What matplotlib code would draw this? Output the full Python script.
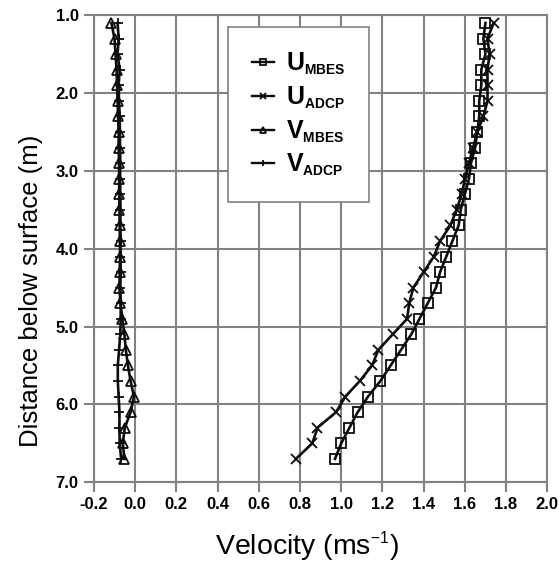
#!/usr/bin/env python3
# Velocity profiles: U and V components, MBES vs ADCP
import matplotlib
matplotlib.use("Agg")
import matplotlib.pyplot as plt
import matplotlib._mathtext as mathtext_internal

plt.rcParams['font.family'] = ['Liberation Sans', 'DejaVu Sans']
plt.rcParams['mathtext.fontset'] = 'custom'
plt.rcParams['mathtext.rm'] = 'Liberation Sans'
plt.rcParams['mathtext.bf'] = 'Liberation Sans:bold'
plt.rcParams['axes.unicode_minus'] = False
# smaller sub/superscripts, as in the original figure
mathtext_internal.SHRINK_FACTOR = 0.55

#----------- Data
depth = [1.1, 1.3, 1.5, 1.7, 1.9, 2.1, 2.3, 2.5, 2.7, 2.9,
         3.1, 3.3, 3.5, 3.7, 3.9, 4.1, 4.3, 4.5, 4.7, 4.9,
         5.1, 5.3, 5.5, 5.7, 5.9, 6.1, 6.3, 6.5, 6.7]
u_mbes = [1.70, 1.69, 1.70, 1.68, 1.68, 1.67, 1.67, 1.66, 1.65, 1.63,
          1.62, 1.60, 1.58, 1.57, 1.54, 1.51, 1.48, 1.46, 1.42, 1.38,
          1.34, 1.29, 1.24, 1.19, 1.13, 1.08, 1.04, 1.00, 0.97]
u_adcp = [1.74, 1.71, 1.72, 1.71, 1.71, 1.71, 1.69, 1.66, 1.64, 1.62,
          1.60, 1.585, 1.56, 1.53, 1.48, 1.45, 1.40, 1.35, 1.33, 1.32,
          1.25, 1.18, 1.15, 1.09, 1.02, 0.975, 0.885, 0.86, 0.78]
v_mbes = [-0.115, -0.100, -0.095, -0.090, -0.088, -0.085, -0.083, -0.080, -0.080, -0.078,
          -0.078, -0.077, -0.076, -0.075, -0.074, -0.073, -0.075, -0.076, -0.071, -0.062,
          -0.052, -0.045, -0.035, -0.022, -0.006, -0.022, -0.050, -0.060, -0.052]
v_adcp = [-0.085, -0.080, -0.085, -0.075, -0.080, -0.078, -0.075, -0.074, -0.073, -0.072,
          -0.073, -0.072, -0.071, -0.072, -0.070, -0.071, -0.070, -0.072, -0.070, -0.070,
          -0.072, -0.078, -0.084, -0.084, -0.080, -0.076, -0.076, -0.075, -0.068]

x_ticks = [-0.2, 0.0, 0.2, 0.4, 0.6, 0.8, 1.0, 1.2, 1.4, 1.6, 1.8, 2.0]
y_ticks = [1.0, 2.0, 3.0, 4.0, 5.0, 6.0, 7.0]

labels = [r'$\mathbf{U}_\mathbf{MBES}$', r'$\mathbf{U}_\mathbf{ADCP}$',
          r'$\mathbf{V}_\mathbf{MBES}$', r'$\mathbf{V}_\mathbf{ADCP}$']

#----------- Figure
fig = plt.figure(figsize=(5.59, 5.64), dpi=100)
ax = fig.add_axes([0.168, 0.145, 0.811, 0.828])

line_col = '#0d0d0d'
grid_col = '#828282'
kw = dict(color=line_col, lw=1.9, markersize=7, markeredgewidth=1.3)

ax.plot(u_mbes, depth, marker='s', mfc='none', label=labels[0], **kw)
ax.plot(u_adcp, depth, marker='x', label=labels[1], **kw)
ax.plot(v_mbes, depth, marker='^', mfc='none', label=labels[2], **kw)
ax.plot(v_adcp, depth, marker='+', label=labels[3], **kw)

ax.set_xlim(-0.2, 2.0)
ax.set_ylim(7.0, 1.0)
ax.set_xticks(x_ticks)
ax.set_xticklabels([f'{v:.1f}' for v in x_ticks], fontweight='bold', fontsize=12)
ax.set_yticks(y_ticks)
ax.set_yticklabels([f'{v:.1f}' for v in y_ticks], fontweight='bold', fontsize=12)
ax.tick_params(direction='out', length=7, width=1.5, color=grid_col, pad=4)

ax.grid(True, color=grid_col, lw=1.5)
ax.set_axisbelow(True)
for sp in ax.spines.values():
    sp.set_color(grid_col)
    sp.set_linewidth(1.5)

ax.set_xlabel(r'Velocity (ms$^{\mathrm{-1}}$)', fontsize=20.5, va='baseline')
ax.xaxis.set_label_coords(0.47, -0.154)
ax.set_ylabel('Distance below surface (m)', fontsize=18.5, va='baseline')
ax.yaxis.set_label_coords(-0.124, 0.41)

leg = ax.legend(loc='upper left', bbox_to_anchor=(0.296, 0.974),
                prop={'size': 18},
                fancybox=False, framealpha=1, edgecolor=grid_col,
                handlelength=0.9, handletextpad=0.45, labelspacing=0.3,
                borderpad=0.95, borderaxespad=0)
leg.get_frame().set_linewidth(1.2)
for h in leg.legend_handles:
    h.set_markersize(5)
    h.set_linewidth(1.7)

fig.savefig('out.png', dpi=100)
